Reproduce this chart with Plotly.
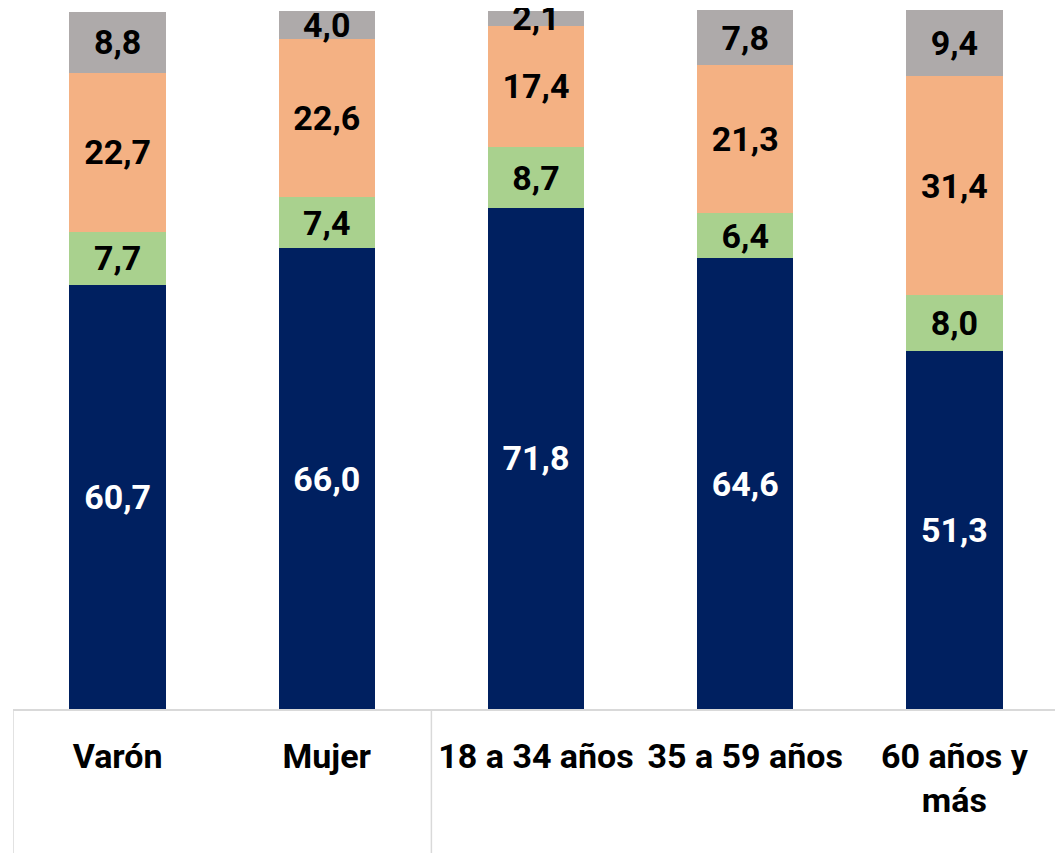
import plotly.graph_objects as go

categories = ["Varón", "Mujer", "18 a 34 años", "35 a 59 años", "60 años y<br>más"]
serie_1 = [60.7, 66.0, 71.8, 64.6, 51.3]
serie_2 = [7.7, 7.4, 8.7, 6.4, 8.0]
serie_3 = [22.7, 22.6, 17.4, 21.3, 31.4]
serie_4 = [8.8, 4.0, 2.1, 7.8, 9.4]

series = [
    ("Serie 1", serie_1, "#002060", "white"),
    ("Serie 2", serie_2, "#A9D18E", "black"),
    ("Serie 3", serie_3, "#F4B183", "black"),
    ("Serie 4", serie_4, "#AEAAAA", "black"),
]

FONT = "Roboto, 'Open Sans', sans-serif"

fig = go.Figure()
xs = list(range(len(categories)))
for name, vals, color, tcolor in series:
    fig.add_trace(go.Bar(
        x=xs, y=vals, name=name,
        marker=dict(color=color, line=dict(width=0)),
        text=[f"{v:.1f}".replace(".", ",") for v in vals],
        textposition="inside", insidetextanchor="middle",
        textfont=dict(family=FONT, size=34, color=tcolor, weight="bold"),
        constraintext="none",
        cliponaxis=False,
    ))

line_col = "#D9D9D9"
for xv in [-0.5, 1.5, 4.5]:
    fig.add_shape(type="line", xref="x", yref="paper", x0=xv, x1=xv, y0=0, y1=-0.3,
                  line=dict(color=line_col, width=1.5), layer="below")

fig.update_layout(
    barmode="stack",
    bargap=0.54,
    width=1055, height=845,
    margin=dict(l=5, r=4, t=2, b=144),
    paper_bgcolor="white", plot_bgcolor="white",
    showlegend=False,
    uniformtext=dict(mode="show", minsize=34),
    xaxis=dict(
        tickmode="array", tickvals=xs, ticktext=categories,
        range=[-0.5, 4.5],
        showline=True, linecolor=line_col, linewidth=1.5,
        showgrid=False, zeroline=False, ticks="",
        ticklabelstandoff=16,
        tickfont=dict(family=FONT, size=34, color="black", weight="bold"),
    ),
    yaxis=dict(range=[0, 100.15], visible=False, showgrid=False, zeroline=False),
)

fig.write_html("out.html")
